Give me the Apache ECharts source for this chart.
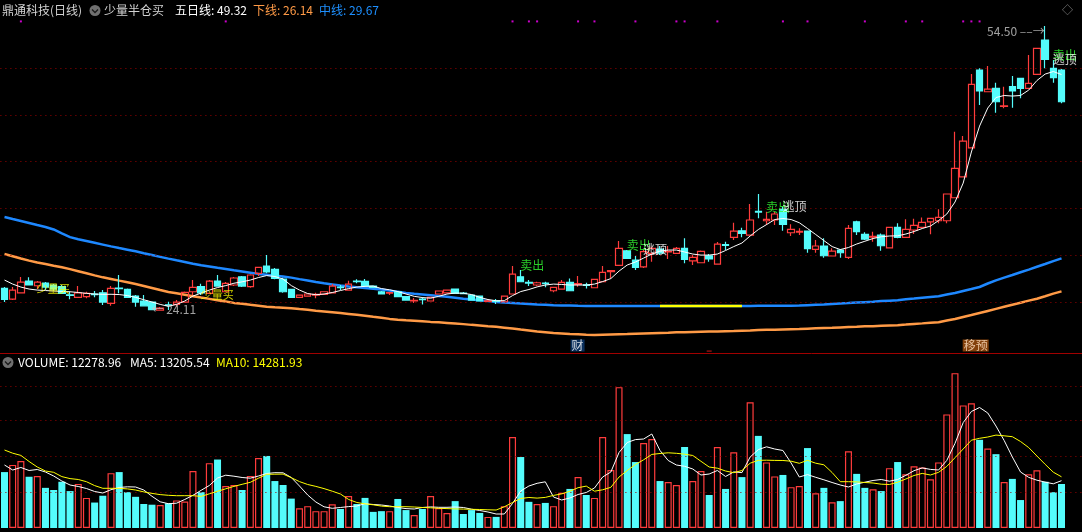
<!DOCTYPE html>
<html><head><meta charset="utf-8">
<script src="https://cdn.jsdelivr.net/npm/echarts@6.0.0/dist/echarts.min.js"></script>
<style>html,body{margin:0;padding:0;background:#000;overflow:hidden}#c{width:1082px;height:532px}</style>
</head><body><div id="c"></div>
<script>
// ---------- DATA ----------
const opens = [26.46,25.32,25.99,27.24,26.74,27.03,26.82,26.64,25.78,25.50,25.57,25.86,25.99,24.86,26.50,26.36,25.64,25.11,25.00,24.14,24.71,24.75,25.00,26.10,26.64,25.93,27.24,26.10,26.82,27.70,26.64,28.07,28.85,28.50,27.46,26.36,25.50,25.64,25.75,25.82,25.99,26.60,26.28,27.24,27.21,26.71,26.10,25.96,26.10,25.57,25.11,25.32,25.11,25.86,25.99,26.39,25.96,25.75,25.64,25.07,25.14,25.03,25.86,27.70,27.11,26.82,27.03,26.21,26.39,27.11,26.89,26.85,26.53,27.17,28.26,28.92,30.48,29.49,28.77,30.21,30.67,30.35,30.21,30.74,29.41,29.20,29.95,29.06,31.13,31.92,32.62,32.16,34.70,33.69,33.77,34.91,32.41,32.48,32.59,30.63,30.99,29.92,30.56,29.78,33.58,32.24,31.95,32.16,30.80,32.99,31.92,32.70,32.99,33.58,33.69,33.69,36.15,38.39,41.49,49.80,47.48,47.84,45.92,48.02,48.91,47.84,49.34,53.01,49.98,49.80];
const closes = [25.29,26.28,27.14,26.82,27.14,26.60,26.39,25.93,25.72,25.99,25.93,25.79,25.00,26.46,26.42,25.50,25.00,24.60,24.20,24.36,24.65,25.00,26.04,26.57,25.99,27.24,26.71,27.00,27.57,26.71,27.89,28.71,28.21,27.53,26.10,25.50,25.75,25.86,25.82,26.10,26.71,26.53,26.92,27.17,26.71,26.57,25.86,26.02,25.57,25.21,25.17,25.26,25.50,26.18,26.28,25.93,25.89,25.21,25.11,25.14,25.07,25.64,27.99,27.17,27.03,27.06,26.96,26.57,27.11,26.21,26.96,26.79,27.43,28.17,28.35,30.74,29.67,28.71,30.38,30.74,30.24,30.41,30.74,29.56,29.78,30.42,29.60,31.20,31.06,32.59,32.34,33.77,34.62,33.84,34.41,33.31,32.77,32.55,30.70,30.99,29.95,30.45,30.27,32.88,32.52,31.73,32.01,31.02,32.99,31.92,32.77,33.20,33.52,33.95,34.05,36.55,39.29,42.21,48.27,47.56,47.77,46.41,45.98,47.56,47.84,48.38,52.12,50.94,48.98,46.41];
const lows = [25.00,25.21,25.96,26.76,26.39,26.28,26.18,25.86,25.29,25.43,25.40,25.50,24.68,24.60,25.93,25.43,24.50,24.57,24.11,24.12,24.14,24.50,24.93,25.75,25.75,25.86,26.66,26.07,26.71,26.60,26.53,27.78,28.07,27.43,25.99,25.43,25.46,25.61,25.40,25.78,25.96,26.28,26.21,27.00,26.64,26.50,25.80,25.75,25.53,25.16,24.89,24.75,25.05,25.80,25.96,25.89,25.86,25.16,25.05,25.00,24.79,25.00,25.80,27.14,26.71,26.71,26.57,26.04,26.36,26.18,26.64,26.46,26.50,27.14,27.53,28.88,29.60,28.42,28.63,29.31,30.02,29.60,30.13,29.14,28.96,29.17,29.31,29.03,30.56,31.63,31.92,32.11,33.95,33.23,33.23,32.62,32.06,32.16,30.27,30.27,29.74,29.89,29.74,29.60,32.16,31.63,31.45,30.48,30.77,31.81,31.90,32.27,32.88,32.24,33.41,33.41,36.12,38.36,41.46,46.06,47.45,45.24,45.71,45.77,46.78,47.82,49.32,49.98,48.44,46.24];
const highs = [26.60,26.60,27.67,27.64,27.24,27.14,26.92,26.82,26.10,26.71,26.10,26.18,26.28,26.71,27.89,26.44,25.75,25.75,25.05,24.47,25.03,25.21,26.14,27.35,26.96,27.35,27.89,27.14,27.67,27.78,27.96,28.77,30.02,28.63,27.60,26.39,25.78,25.89,25.99,26.14,26.92,26.82,27.28,27.43,27.46,26.76,26.18,26.07,26.18,25.64,25.43,25.50,25.53,26.23,26.34,26.44,26.07,25.80,25.69,25.32,25.32,25.69,28.85,28.42,27.35,27.17,27.17,26.64,27.35,27.53,27.78,27.06,27.46,28.85,28.37,31.52,30.56,29.92,30.56,30.91,30.99,30.99,30.88,31.81,30.02,30.51,30.13,31.41,31.45,33.48,32.94,35.48,36.55,34.65,34.65,35.19,33.31,32.88,32.64,31.63,31.81,30.74,30.67,33.23,33.69,32.45,32.52,32.34,33.02,33.41,33.84,33.90,34.05,33.98,34.91,36.60,43.21,42.75,49.37,49.98,50.23,48.44,48.02,49.16,48.95,51.40,52.15,54.50,50.87,49.91];
const volumes = [15600,17600,18700,14300,14500,11200,10600,12900,10300,12300,8400,7100,9000,15300,15600,10000,8700,6700,6500,6400,6900,7700,7400,15900,10000,18100,19100,11700,12000,10600,14500,19500,20100,13100,12000,8200,5500,6100,4700,4700,6600,5300,8900,6700,8400,4500,4700,4700,8100,5000,3600,5300,8900,5600,4200,7500,3900,5000,4200,3100,3100,6100,25400,19800,7300,6700,7000,6100,9800,10900,14200,9200,8400,25400,16200,39300,26200,18400,23700,24800,13100,12800,12000,22600,13100,15900,9200,22600,10900,21100,14200,35100,25700,18300,14400,14800,11400,11700,22300,9700,11200,7200,7500,21400,15100,11200,10800,10300,16700,18400,15000,17200,16900,13600,18300,31700,43200,34200,34800,24600,22200,20600,12800,13700,7800,15000,16100,12900,10000,12278.96];
const fiveDayLine = [27.35,26.92,26.60,26.39,26.28,26.23,26.18,26.14,26.10,26.02,25.93,25.86,25.82,25.83,25.80,25.69,25.50,25.25,25.00,24.75,24.54,24.75,25.11,25.64,25.96,26.28,26.55,26.76,27.01,27.16,27.35,27.62,27.83,27.73,27.46,26.76,26.28,25.91,25.78,25.86,26.02,26.23,26.44,26.60,26.68,26.71,26.44,26.31,26.12,25.86,25.61,25.48,25.41,25.61,25.86,25.96,25.94,25.80,25.50,25.27,25.14,25.15,25.69,26.12,26.34,26.62,26.82,26.92,26.88,26.82,26.82,26.82,26.92,27.19,27.51,28.31,28.96,29.28,29.70,30.13,30.45,30.56,30.56,30.35,30.13,30.02,30.02,30.13,30.51,30.93,31.31,32.06,32.75,33.28,33.82,33.93,33.82,33.48,32.86,32.22,31.57,30.93,30.61,30.83,31.20,31.50,31.79,31.98,32.06,32.08,32.27,32.54,32.86,33.12,33.71,34.41,35.69,37.72,41.04,43.81,45.74,46.86,47.08,47.02,47.08,47.66,48.68,49.37,49.64,49.32];
const middleLine = [34.09,33.87,33.66,33.45,33.23,33.02,32.76,32.33,31.94,31.71,31.52,31.33,31.14,30.95,30.77,30.60,30.42,30.22,30.03,29.83,29.64,29.46,29.29,29.10,28.93,28.81,28.67,28.54,28.40,28.27,28.14,28.01,27.91,27.81,27.72,27.61,27.45,27.30,27.14,27.00,26.88,26.76,26.65,26.57,26.50,26.42,26.34,26.22,26.10,25.98,25.89,25.81,25.73,25.65,25.56,25.46,25.36,25.27,25.18,25.10,25.00,24.94,24.89,24.84,24.79,24.74,24.70,24.66,24.63,24.62,24.60,24.59,24.58,24.57,24.57,24.57,24.57,24.57,24.57,24.57,24.57,24.57,24.57,24.57,24.58,24.58,24.58,24.58,24.59,24.59,24.59,24.59,24.60,24.60,24.60,24.60,24.60,24.63,24.67,24.71,24.75,24.80,24.85,24.89,24.94,24.99,25.04,25.10,25.15,25.20,25.29,25.37,25.46,25.55,25.63,25.80,25.97,26.18,26.39,26.61,26.98,27.32,27.61,27.89,28.19,28.47,28.77,29.07,29.38,29.67];
const lowerLine = [30.13,29.90,29.66,29.43,29.22,29.06,28.88,28.71,28.52,28.30,28.08,27.85,27.64,27.47,27.29,27.12,26.92,26.71,26.50,26.28,26.07,25.93,25.78,25.63,25.48,25.34,25.19,25.05,24.91,24.81,24.70,24.60,24.50,24.44,24.39,24.34,24.25,24.17,24.08,24.00,23.91,23.82,23.73,23.64,23.54,23.42,23.31,23.20,23.12,23.05,23.00,22.95,22.88,22.83,22.77,22.71,22.64,22.56,22.50,22.42,22.35,22.26,22.17,22.06,21.96,21.86,21.78,21.70,21.64,21.58,21.55,21.50,21.47,21.50,21.53,21.56,21.58,21.61,21.64,21.67,21.70,21.73,21.77,21.78,21.80,21.82,21.84,21.86,21.88,21.90,21.93,21.96,22.00,22.03,22.05,22.07,22.09,22.11,22.15,22.19,22.22,22.25,22.29,22.33,22.36,22.40,22.42,22.47,22.50,22.53,22.59,22.66,22.72,22.79,22.85,23.02,23.19,23.40,23.61,23.83,24.05,24.27,24.49,24.71,24.93,25.15,25.36,25.62,25.90,26.14];
const volMA5 = [17577,16182,16880,16043,16322,15624,14508,13113,11997,11579,11021,10184,9765,10686,11300,11495,11439,10602,8844,7310,6780,6919,7952,9123,10518,11858,13950,14731,14452,14090,13894,14508,15206,15429,15401,14090,11718,9207,7254,5915,5496,5720,5971,6138,6780,6557,6417,6138,5720,5413,5301,5720,5887,5775,5775,5859,5720,5245,4883,4464,3906,3906,6836,10323,11718,12471,12890,8649,7812,8370,9347,9905,11160,14229,15624,21065,23855,24664,24831,26226,21623,18833,17577,17214,16461,14787,15066,16043,14369,15652,15457,19809,21874,22655,22041,21623,18135,14229,14899,14145,13448,12695,11997,11439,12276,12778,13253,13532,13057,13532,14703,15987,16768,16349,16182,18860,23603,29407,32504,33620,32085,28458,24413,19809,15624,14117,13336,12806,12332,13205.54];
const volMA10 = [21762,20869,20255,18554,17019,15903,15540,14341,13783,13532,12918,11830,11076,11076,11048,10909,10602,10072,9653,9319,9123,9012,9012,9012,8816,9542,10239,10937,11606,12192,12750,13894,14982,15010,15038,14034,12946,12137,11606,10993,10267,9486,7952,7115,6724,6473,6110,5943,5943,5943,5859,5720,5636,5496,5413,5329,5273,5217,5162,5078,5022,5915,7115,8231,8510,8342,8537,9095,9514,10267,11244,11690,10267,10658,11355,14229,16043,17717,19028,20534,20786,20981,20841,20590,20228,18609,17019,16684,15903,15429,16043,18079,18888,18916,18860,18833,18637,18051,18888,18079,17633,15485,12918,12918,12862,12695,12555,12220,12137,12778,13671,14648,15233,14787,15540,17186,19614,22041,24496,25026,25389,25919,25724,25473,24134,22432,20088,17772,15568,14281.93];
// signal days / labels
const priceGridLevels = [25,30,35,40,45,50];
const volGridLevels = [10000,20000,30000,39600];
const sellDays = [63,76,93,128];       // 卖出
const escapeDays = [78,95,128];        // 逃顶
const buyDays = [4,24];                // 少量买
const signalDots = [2,27,62,64,65,70,72,77,82,83,87,95,98,105,110,112,117,118,119];
const yellowSegDays = [80,81,82,83,84,85,86,87,88,89,90];
const highDay = 127, lowDay = 18;
const caiDay = 70, yiyuDay = 117, redTickDay = 86;
const cats = opens.map((_, i) => 'D' + (i + 1)).concat(['', '']);

// ---------- STYLE ----------
const RED = '#ff3c3c', CYAN = '#54fcfc', GRID = '#9a0000';
const FONT = '"Noto Sans CJK SC","Noto Sans",sans-serif';
const ohlc = opens.map((o, i) => [o, closes[i], lows[i], highs[i]]);
const volData = volumes.map((v, i) => ({
  value: v,
  itemStyle: closes[i] >= opens[i]
    ? { color: 'rgba(0,0,0,0)', borderColor: RED, borderWidth: 1.2 }
    : { color: CYAN, borderWidth: 0 }
}));
const yellowSeg = middleLine.map((v, i) => yellowSegDays.includes(i) ? v : null);
const dotLevel = 55.0;

function textPoint(i, y, text, color, align, vAlign, size, offset) {
  return {
    value: [i, y],
    label: { show: true, position: [0, 0], formatter: text, color: color, align: align,
      verticalAlign: vAlign, fontFamily: FONT, fontSize: size || 12, offset: offset || [0, 0] }
  };
}
const annot = [];
sellDays.forEach(i => annot.push(textPoint(i, highs[i], '卖出', '#33ff33', 'left', 'bottom', 12, [0, 2])));
escapeDays.forEach(i => annot.push(textPoint(i, highs[i], '逃顶', '#ffffff', 'left', 'middle', 12, [0, 0])));
buyDays.forEach(i => annot.push(textPoint(i, lows[i], '少量买', '#ffff00', 'left', 'middle', 11, [0, 0])));
annot.push(textPoint(highDay, highs[highDay], highs[highDay].toFixed(2) + ' ‒‒→', '#c8c8c8', 'right', 'top', 12, [0, 0]));
annot.push(textPoint(lowDay, lows[lowDay], '← ' + lows[lowDay].toFixed(2), '#c8c8c8', 'left', 'middle', 12, [0, 0]));
annot.push(textPoint(caiDay, 19.66, '财', '#ffffff', 'center', 'bottom', 12, [0, 0]));
annot.push(textPoint(yiyuDay, 19.66, '移预', '#ffe0c0', 'left', 'bottom', 12, [0, 0]));
annot[annot.length - 2].label.backgroundColor = '#0d3b73';
annot[annot.length - 2].label.padding = [0, 1, 0, 1];
annot[annot.length - 1].label.backgroundColor = '#a4500e';
annot[annot.length - 1].label.padding = [0, 1, 0, 1];

const chart = echarts.init(document.getElementById('c'), null, { renderer: 'canvas' });
chart.setOption({
  backgroundColor: '#000000',
  animation: false,
  grid: [
    { left: 0.4, right: 0, top: 20, height: 332 },
    { left: 0.4, right: 0, top: 354, height: 174 }
  ],
  xAxis: [
    { type: 'category', data: cats, gridIndex: 0, show: false, boundaryGap: true },
    { type: 'category', data: cats, gridIndex: 1, show: false, boundaryGap: true }
  ],
  yAxis: [
    { type: 'value', gridIndex: 0, min: 19.66, max: 55.15, show: false, splitLine: { show: false } },
    { type: 'value', gridIndex: 1, min: 0, max: 48546, show: false, splitLine: { show: false } }
  ],
  series: [
    { type: 'line', name: 'grid', xAxisIndex: 0, yAxisIndex: 0, data: [], silent: true,
      markLine: { silent: true, symbol: 'none', label: { show: false },
        lineStyle: { color: GRID, type: [1, 4], width: 1 },
        data: priceGridLevels.map(v => ({ yAxis: v })) } },
    { type: 'line', name: 'vgrid', xAxisIndex: 1, yAxisIndex: 1, data: [], silent: true,
      markLine: { silent: true, symbol: 'none', label: { show: false },
        lineStyle: { color: GRID, type: [1, 4], width: 1 },
        data: volGridLevels.map(v => ({ yAxis: v })) } },
    { type: 'line', name: '下线', data: lowerLine, symbol: 'none', z: 3,
      lineStyle: { color: '#ff9a46', width: 2.5 } },
    { type: 'line', name: '中线', data: middleLine, symbol: 'none', z: 3,
      lineStyle: { color: '#1e88ff', width: 2.5 } },
    { type: 'line', name: '中线黄', data: yellowSeg, symbol: 'none', z: 3,
      lineStyle: { color: '#ffff00', width: 2.5 } },
    { type: 'candlestick', name: 'K', data: ohlc, barWidth: 7, z: 5,
      itemStyle: { color: 'rgba(0,0,0,0)', color0: CYAN, borderColor: RED, borderColor0: CYAN, borderWidth: 1.2 } },
    { type: 'line', name: '五日线', data: fiveDayLine, symbol: 'none', z: 6,
      lineStyle: { color: '#ffffff', width: 1 } },
    { type: 'scatter', name: 'dots', data: signalDots.map(i => [i, dotLevel]), symbol: 'rect',
      symbolSize: 2, itemStyle: { color: '#ff00ff' }, z: 7 },
    { type: 'scatter', name: 'tick', data: [[redTickDay, 19.76]], symbol: 'rect',
      symbolSize: [5, 1], itemStyle: { color: '#ff2020' }, z: 7 },
    { type: 'scatter', name: 'annot', data: annot, symbolSize: 1,
      itemStyle: { color: 'rgba(0,0,0,0)' }, z: 8 },
    { type: 'bar', name: 'VOLUME', xAxisIndex: 1, yAxisIndex: 1, data: volData, barWidth: 7, z: 3 },
    { type: 'line', name: 'MA5', xAxisIndex: 1, yAxisIndex: 1, data: volMA5, symbol: 'none', z: 5,
      lineStyle: { color: '#ffffff', width: 1 } },
    { type: 'line', name: 'MA10', xAxisIndex: 1, yAxisIndex: 1, data: volMA10, symbol: 'none', z: 5,
      lineStyle: { color: '#ffff00', width: 1 } }
  ],
  graphic: [
    { type: 'line', shape: { x1: 0, y1: 353.5, x2: 1082, y2: 353.5 }, style: { stroke: '#a00000', lineWidth: 1 }, silent: true },
    { type: 'text', x: 2, y: 10, style: { text: '鼎通科技(日线)', fill: '#d2d2d2', font: '12px ' + FONT, verticalAlign: 'middle' } },
    { type: 'circle', shape: { cx: 95, cy: 10.5, r: 5.5 }, style: { fill: '#707070' } },
    { type: 'polyline', shape: { points: [[92, 9.5], [95, 12.5], [98, 9.5]] }, style: { stroke: '#1a1a1a', lineWidth: 1.3, fill: null } },
    { type: 'text', x: 104, y: 10, style: { text: '少量半仓买', fill: '#d2d2d2', font: '12px ' + FONT, verticalAlign: 'middle' } },
    { type: 'text', x: 175, y: 10, style: { text: '五日线: ' + fiveDayLine[fiveDayLine.length - 1].toFixed(2), fill: '#ffffff', font: '12px ' + FONT, verticalAlign: 'middle' } },
    { type: 'text', x: 253, y: 10, style: { text: '下线: ' + lowerLine[lowerLine.length - 1].toFixed(2), fill: '#ff9a46', font: '12px ' + FONT, verticalAlign: 'middle' } },
    { type: 'text', x: 319, y: 10, style: { text: '中线: ' + middleLine[middleLine.length - 1].toFixed(2), fill: '#1e90ff', font: '12px ' + FONT, verticalAlign: 'middle' } },
    { type: 'text', x: 1062, y: 10, style: { text: '◇', fill: '#909090', font: '11px ' + FONT, verticalAlign: 'middle' } },
    { type: 'circle', shape: { cx: 8, cy: 362.5, r: 5.5 }, style: { fill: '#707070' } },
    { type: 'polyline', shape: { points: [[5, 361.5], [8, 364.5], [11, 361.5]] }, style: { stroke: '#1a1a1a', lineWidth: 1.3, fill: null } },
    { type: 'text', x: 18, y: 362, style: { text: 'VOLUME: ' + volumes[volumes.length - 1].toFixed(2), fill: '#ffffff', font: '12px ' + FONT, verticalAlign: 'middle' } },
    { type: 'text', x: 130, y: 362, style: { text: 'MA5: ' + volMA5[volMA5.length - 1].toFixed(2), fill: '#ffffff', font: '12px ' + FONT, verticalAlign: 'middle' } },
    { type: 'text', x: 216, y: 362, style: { text: 'MA10: ' + volMA10[volMA10.length - 1].toFixed(2), fill: '#ffff00', font: '12px ' + FONT, verticalAlign: 'middle' } }
  ]
});
</script></body></html>
